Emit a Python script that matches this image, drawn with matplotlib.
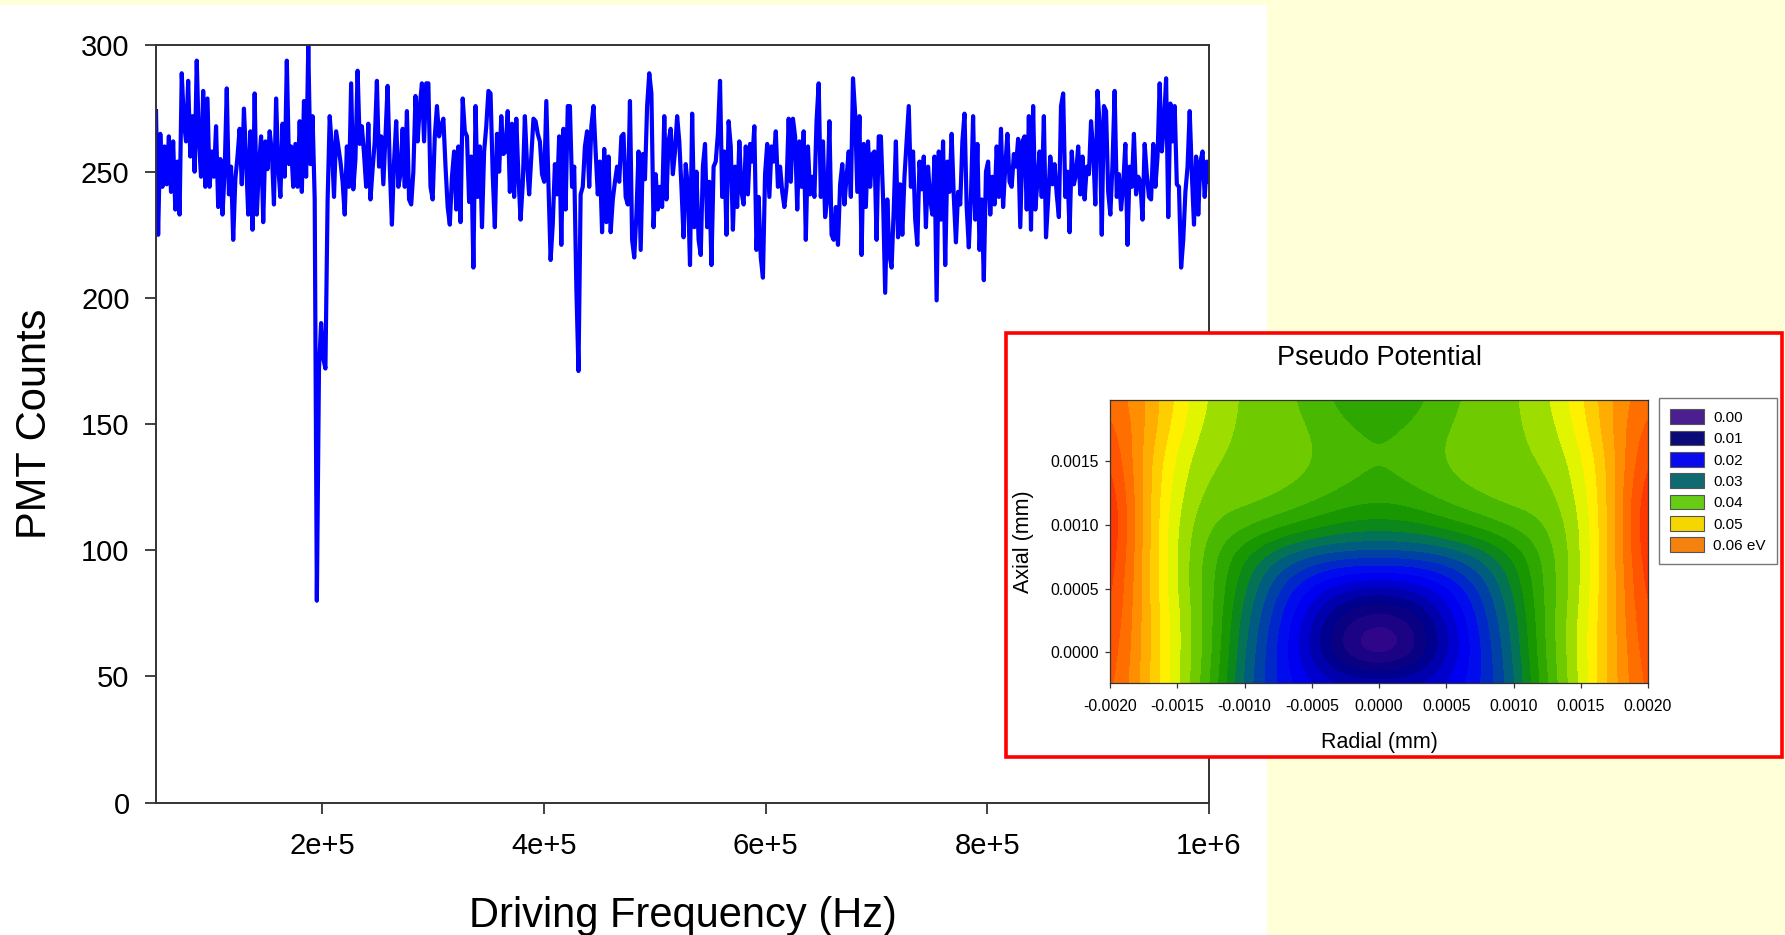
import numpy as np
import matplotlib
matplotlib.use("Agg")
import matplotlib.pyplot as plt
from matplotlib.colors import LinearSegmentedColormap, ListedColormap, BoundaryNorm
from matplotlib.patches import Rectangle, Patch
from matplotlib.ticker import FormatStrFormatter

plt.rcParams["font.family"] = ["Liberation Sans", "DejaVu Sans"]
plt.rcParams["axes.unicode_minus"] = False

# ---- main trace: PMT counts over an even frequency sweep ----
freq_start_hz = 5.0e4
freq_stop_hz = 1.0e6
pmt_counts = [
    274, 225, 265, 244, 260, 245, 264, 242, 262, 235,
    254, 233, 289, 270, 262, 286, 256, 272, 250, 294, 262,
    248, 282, 244, 279, 244, 258, 248, 268, 236, 255,
    233, 250, 283, 241, 252, 223, 247, 256, 267, 245, 275,
    255, 233, 266, 227, 281, 233, 252, 264, 230, 262, 251,
    266, 258, 237, 279, 252, 240, 269, 248, 294, 253,
    260, 244, 261, 244, 270, 242, 278, 248, 300, 253,
    272, 239,
    80, 172, 190, 176, 172, 238,
    272, 260,
    240, 266, 260, 254, 246, 233, 260, 244, 285, 243, 255,
    290, 261, 268, 257, 244, 269, 239, 251, 262, 286,
    252, 264, 245, 264, 284, 252, 229, 254, 270, 244,
    249, 267, 244, 274, 239, 237, 250, 280, 262, 276, 285,
    262, 285, 285, 244, 239, 264, 276, 264, 268, 271,
    252, 236, 229, 248, 258, 235, 260, 230, 279, 266, 264,
    238, 256, 212, 276, 240, 260, 228, 258, 268, 282,
    281, 249, 228, 265, 250, 272, 257,
    258, 274, 242, 269, 240, 271, 248, 231, 245, 272,
    253, 241, 256, 271, 270, 265, 262, 249, 246, 278,
    245, 215, 229, 253, 241, 264, 221, 267, 235, 276,
    276, 244, 252, 204, 171, 241, 244, 260, 266, 244,
    268, 276, 258, 241, 254, 226, 259, 230, 256, 226,
    239, 246, 252, 246, 264, 265, 240, 237, 278, 223,
    216, 233, 258, 219, 257, 247, 276, 289, 281, 228,
    249, 235, 244, 236, 272, 239, 262, 267, 249, 258,
    272, 262,
    244, 224, 253, 244, 213, 273, 228, 250, 223, 217,
    252, 261, 228, 246, 213, 252, 254, 265, 286, 240,
    258, 225, 270, 260, 227, 252, 236, 262, 242, 237,
    260, 241, 261, 254, 268, 219, 240, 216, 208, 249,
    261, 240, 260, 254, 266, 244, 252, 242, 236, 244,
    271, 246, 271, 264, 235, 262, 244, 266, 223, 260,
    241, 248, 240, 270, 285, 240, 262, 232, 239, 270,
    225, 223, 236, 221, 245, 253, 237, 248, 258, 240,
    287, 273, 242, 272, 217,
    261, 236, 262, 244, 257, 258, 223, 264, 264, 240,
    202, 239, 217, 212, 235, 262, 224, 245, 225, 248,
    262, 276, 244, 258, 231, 221, 254, 243, 256, 228,
    252, 239, 233, 256, 199, 258, 231, 262, 213, 254,
    242, 265, 240, 222, 242, 237, 262, 273, 236, 220,
    240, 272, 231, 261, 219, 239, 207, 250, 254, 233,
    248, 237, 260, 240, 267, 236, 252, 265, 246, 244,
    257, 252, 263, 228, 262, 264, 235, 272, 227, 276,
    235, 246, 258, 240, 272, 224, 239, 256, 245, 253,
    241, 232, 276, 281, 240, 250, 226, 258, 245, 249,
    260, 241, 256, 239, 252, 249, 270, 258, 237, 282,
    269, 225, 276, 274, 242, 233, 253, 282, 240, 249,
    235, 245, 261, 221, 252, 244, 265, 241, 248, 246,
    231, 261, 249, 240, 239, 261, 244, 256, 285, 258,
    269, 287, 232, 277, 262, 276, 245, 244, 212, 223,
    242, 252, 274, 249, 229, 256, 233, 254, 258, 240,
    254, 246,
]
freq_ticks = [2e5, 4e5, 6e5, 8e5, 1e6]
freq_tick_labels = ["2e+5", "4e+5", "6e+5", "8e+5", "1e+6"]
count_ticks = [0, 50, 100, 150, 200, 250, 300]

# ---- inset: pseudo potential (eV) on a radial x axial grid (mm) ----
radial_mm = [-0.002, -0.00175, -0.0015, -0.00125, -0.001, -0.00075, -0.0005, -0.00025, 0.0,
             0.00025, 0.0005, 0.00075, 0.001, 0.00125, 0.0015, 0.00175, 0.002]
axial_mm = [-0.00025, 0.0, 0.00025, 0.0005, 0.00075, 0.001, 0.00125, 0.0015, 0.00175, 0.002]
potential_ev = [
    [0.064, 0.057, 0.048, 0.040, 0.029, 0.022, 0.018, 0.016, 0.016, 0.016, 0.018, 0.022, 0.029, 0.040, 0.048, 0.057, 0.064],
    [0.065, 0.057, 0.048, 0.041, 0.030, 0.022, 0.014, 0.005, 0.001, 0.005, 0.014, 0.022, 0.030, 0.041, 0.048, 0.057, 0.065],
    [0.066, 0.057, 0.048, 0.041, 0.031, 0.023, 0.015, 0.007, 0.004, 0.007, 0.015, 0.023, 0.031, 0.041, 0.048, 0.057, 0.066],
    [0.067, 0.057, 0.047, 0.041, 0.033, 0.025, 0.019, 0.015, 0.014, 0.015, 0.019, 0.025, 0.033, 0.041, 0.047, 0.057, 0.067],
    [0.068, 0.057, 0.047, 0.041, 0.035, 0.030, 0.027, 0.026, 0.026, 0.026, 0.027, 0.030, 0.035, 0.041, 0.047, 0.057, 0.068],
    [0.069, 0.057, 0.047, 0.0425, 0.041, 0.039, 0.037, 0.035, 0.0345, 0.035, 0.037, 0.039, 0.041, 0.0425, 0.047, 0.057, 0.069],
    [0.068, 0.057, 0.048, 0.044, 0.044, 0.043, 0.0415, 0.0398, 0.0388, 0.0398, 0.0415, 0.043, 0.044, 0.044, 0.048, 0.057, 0.068],
    [0.066, 0.057, 0.049, 0.045, 0.0445, 0.044, 0.0428, 0.0412, 0.0400, 0.0412, 0.0428, 0.044, 0.0445, 0.045, 0.049, 0.057, 0.066],
    [0.064, 0.058, 0.051, 0.046, 0.0445, 0.0438, 0.0425, 0.0405, 0.0394, 0.0405, 0.0425, 0.0438, 0.0445, 0.046, 0.051, 0.058, 0.064],
    [0.062, 0.058, 0.052, 0.047, 0.0445, 0.0435, 0.0415, 0.0385, 0.0370, 0.0385, 0.0415, 0.0435, 0.0445, 0.047, 0.052, 0.058, 0.062],
]
band_step_ev = 0.0025
band_top_ev = 0.075
legend_levels_ev = [0.00, 0.01, 0.02, 0.03, 0.04, 0.05, 0.06]
legend_colors = ["#4b1f8f", "#0a0a78", "#0a0aee", "#0f6a72", "#66cc14", "#f5d700", "#f5820f"]

# colour ramp used for the filled bands (value in eV -> colour)
ramp = [
    (0.000, "#4a0a90"), (0.010, "#000080"), (0.020, "#0000ff"), (0.030, "#006a70"),
    (0.035, "#109000"), (0.040, "#38b000"), (0.045, "#80d400"), (0.050, "#ffff00"),
    (0.055, "#ffc000"), (0.060, "#ff8000"), (0.070, "#ff1000"), (0.075, "#ff0000"),
]

W, H = 1785, 935
fig = plt.figure(figsize=(W / 100, H / 100), dpi=100, facecolor="#ffffd8")

# white slide panel behind the main plot
fig.add_artist(Rectangle((0, 0), 1267 / W, 1 - 5 / H, transform=fig.transFigure,
                         facecolor="white", edgecolor="none", zorder=-1))

ax = fig.add_axes([156 / W, 1 - 802.6 / H, (1209 - 156) / W, (802.6 - 45.5) / H])
freqs = np.linspace(freq_start_hz, freq_stop_hz, len(pmt_counts))
ax.plot(freqs, pmt_counts, color="#0000ff", linewidth=3.0)
ax.set_xlim(freq_start_hz, freq_stop_hz)
ax.set_ylim(0, 300)
ax.set_xticks(freq_ticks)
ax.set_xticklabels(freq_tick_labels)
ax.set_yticks(count_ticks)
ax.tick_params(direction="out", length=8, width=1.3, color="#333333", labelsize=21, pad=11)
ax.tick_params(axis="x", pad=13)
for spine in ax.spines.values():
    spine.set_color("#333333")
    spine.set_linewidth(1.4)
ax.set_xlabel("Driving Frequency (Hz)", fontsize=30, labelpad=26)
ax.set_ylabel("PMT Counts", fontsize=30, labelpad=19)

# red framed inset
fig.add_artist(Rectangle((1006 / W, 1 - 757 / H), (1782 - 1006) / W, (757 - 333) / H,
                         transform=fig.transFigure, facecolor="white",
                         edgecolor="#ff0000", linewidth=2.6, zorder=1))

base = LinearSegmentedColormap.from_list(
    "pseudo", [(v / band_top_ev, c) for v, c in ramp])
levels = np.arange(0, band_top_ev + band_step_ev / 2, band_step_ev)
centers = (levels[:-1] + levels[1:]) / 2
band_cmap = ListedColormap(base(centers / band_top_ev))
band_cmap.set_under(base(0.0))
band_cmap.set_over(base(1.0))
norm = BoundaryNorm(levels, band_cmap.N)

axi = fig.add_axes([1110 / W, 1 - 683 / H, (1648 - 1110) / W, (683 - 399.6) / H])
axi.set_zorder(2)
dr = radial_mm[1] - radial_mm[0]
dz = axial_mm[1] - axial_mm[0]
axi.imshow(np.array(potential_ev), origin="lower", aspect="auto",
           extent=[radial_mm[0] - dr / 2, radial_mm[-1] + dr / 2,
                   axial_mm[0] - dz / 2, axial_mm[-1] + dz / 2],
           cmap=band_cmap, norm=norm, interpolation="bicubic",
           interpolation_stage="data")
axi.set_xlim(-0.002, 0.002)
axi.set_ylim(-0.00024, 0.00198)
axi.set_xticks(np.arange(-0.002, 0.00201, 0.0005))
axi.set_yticks([0.0, 0.0005, 0.001, 0.0015])
axi.xaxis.set_major_formatter(FormatStrFormatter("%.4f"))
axi.yaxis.set_major_formatter(FormatStrFormatter("%.4f"))
axi.tick_params(direction="out", length=3.5, width=0.9, color="#333333", labelsize=11.3)
axi.tick_params(axis="x", pad=8)
axi.tick_params(axis="y", pad=4.5)
for spine in axi.spines.values():
    spine.set_color("#333333")
    spine.set_linewidth(0.9)
axi.set_title("Pseudo Potential", fontsize=19.5, pad=25)
axi.set_xlabel("Radial (mm)", fontsize=15.5, labelpad=13)
axi.set_ylabel("Axial (mm)", fontsize=15.5, labelpad=12)

labels = [f"{v:.2f}" for v in legend_levels_ev]
labels[-1] += " eV"
handles = [Patch(facecolor=c, edgecolor="#555555", linewidth=0.8) for c in legend_colors]
leg = axi.legend(handles, labels, loc="upper left", bbox_to_anchor=(1659 / W, 1 - 398 / H),
                 bbox_transform=fig.transFigure, fontsize=11, frameon=True, fancybox=False,
                 handlelength=2.2, handleheight=1.1, handletextpad=0.6, labelspacing=0.38,
                 borderpad=0.75, borderaxespad=0)
leg.get_frame().set_edgecolor("#555555")
leg.get_frame().set_linewidth(1.0)

fig.savefig("out.png", dpi=100, facecolor=fig.get_facecolor())
